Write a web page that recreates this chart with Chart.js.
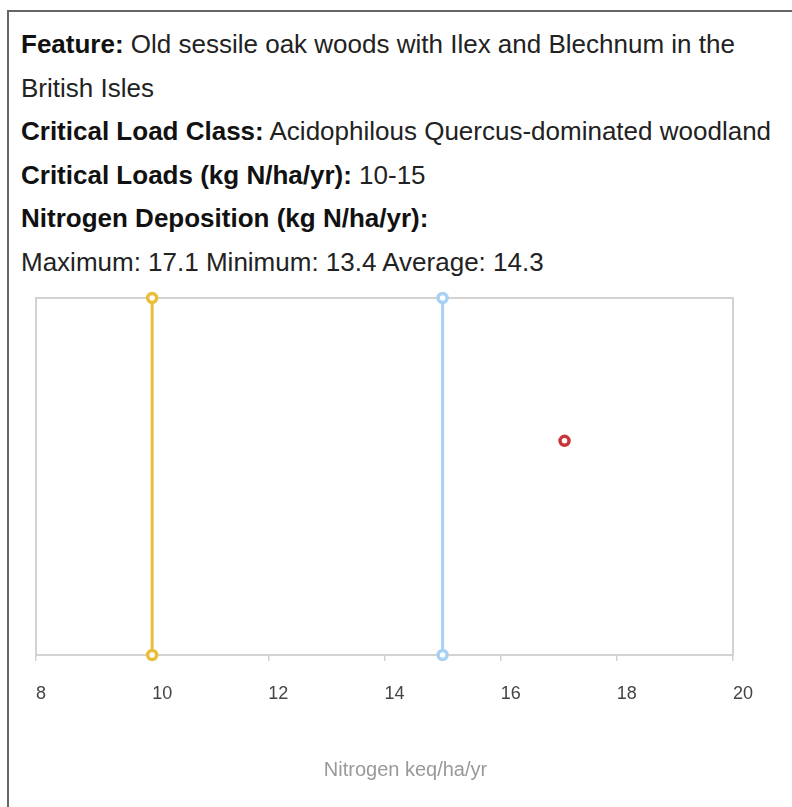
<!DOCTYPE html>
<html>
<head>
<meta charset="utf-8">
<script src="https://cdn.jsdelivr.net/npm/chart.js@4/dist/chart.umd.min.js"></script>
<style>
    html, body { margin: 0; padding: 0; width: 792px; height: 807px; overflow: hidden; background: #fff; }
    #box {
        position: absolute; left: 7px; top: 10px; width: 900px; height: 900px;
        border: 2px solid #666; box-sizing: border-box;
    }
    #info {
        position: absolute; left: 21px; top: 23px; width: 768px;
        font-family: "Liberation Sans", Arial, sans-serif; font-size: 26px; line-height: 43.5px; color: #222;
    }
    #info b { color: #111; }
    #wrap { position: absolute; left: 0; top: 280px; width: 792px; height: 527px; }
</style>
</head>
<body>
<div id="box"></div>
<div id="info">
    <b>Feature:</b> Old sessile oak woods with Ilex and Blechnum in the British Isles<br>
    <b>Critical Load Class:</b> Acidophilous Quercus-dominated woodland<br>
    <b>Critical Loads (kg N/ha/yr):</b> 10-15<br>
    <b>Nitrogen Deposition (kg N/ha/yr):</b><br>
    Maximum: 17.1 Minimum: 13.4 Average: 14.3
</div>
<div id="wrap"><canvas id="myChart"></canvas></div>
<script>
// data
const criticalLoads = [10, 15];        // lower / upper critical load
const lineSpan = [0, 1];               // vertical extent of the critical load lines
const maxDeposition = [17.1];          // maximum nitrogen deposition
const depositionLevel = [0.6];         // vertical position of the deposition marker
const xRange = [8, 20];
const xStep = 2;
const axisTitle = 'Nitrogen keq/ha/yr';

const lineColors = ['#EBBE3A', '#A9D1F4'];
const pointColor = '#C8363A';
const fontFamily = '"Liberation Sans", Arial, sans-serif';

// frame around the plot area + axis title (sits a bit right of centre in the original)
const frame = {
    id: 'frame',
    beforeDatasetsDraw(chart) {
        const {ctx, chartArea: a} = chart;
        ctx.save();
        ctx.strokeStyle = '#D2D2D2';
        ctx.lineWidth = 2;
        ctx.strokeRect(a.left, a.top, a.right - a.left, a.bottom - a.top);
        ctx.restore();
    },
    afterDraw(chart) {
        const {ctx, chartArea: a} = chart;
        ctx.save();
        ctx.fillStyle = '#999';
        ctx.font = '20px ' + fontFamily;
        ctx.textAlign = 'center';
        ctx.textBaseline = 'middle';
        ctx.fillText(axisTitle, (a.left + a.right) / 2 + 21, a.bottom + 115);
        ctx.restore();
    }
};

const datasets = criticalLoads.map((v, i) => ({
    data: lineSpan.map(y => ({x: v, y})),
    showLine: true,
    borderColor: lineColors[i],
    backgroundColor: '#fff',
    borderWidth: 3,
    pointRadius: 4.5,
    pointBorderWidth: 3.5,
    pointBackgroundColor: '#fff',
    pointBorderColor: lineColors[i],
    clip: false,
}));

datasets.push({
    data: maxDeposition.map((v, i) => ({x: v, y: depositionLevel[i]})),
    showLine: false,
    pointRadius: 4.5,
    pointBorderWidth: 3.5,
    pointBackgroundColor: '#fff',
    pointBorderColor: pointColor,
    clip: false,
});

const chart = new Chart(document.querySelector('#myChart'), {
    type: 'scatter',
    data: { datasets },
    plugins: [frame],
    options: {
        responsive: true,
        maintainAspectRatio: false,
        animation: false,
        layout: { padding: { left: 36, right: 59, top: 18, bottom: 0 } },
        plugins: { legend: { display: false }, tooltip: { enabled: false } },
        scales: {
            x: {
                type: 'linear',
                min: xRange[0],
                max: xRange[1],
                afterFit: s => { s.height = 152; },
                grid: { drawOnChartArea: false, drawTicks: true, tickLength: 6, color: '#D2D2D2', lineWidth: 1.5 },
                border: { display: false },
                ticks: {
                    stepSize: xStep,
                    align: 'start',
                    padding: 22,
                    color: '#444',
                    font: { family: fontFamily, size: 18 },
                },
                title: { display: false },
            },
            y: {
                display: false,
                min: lineSpan[0],
                max: lineSpan[1],
            },
        },
    },
});
</script>
</body>
</html>
